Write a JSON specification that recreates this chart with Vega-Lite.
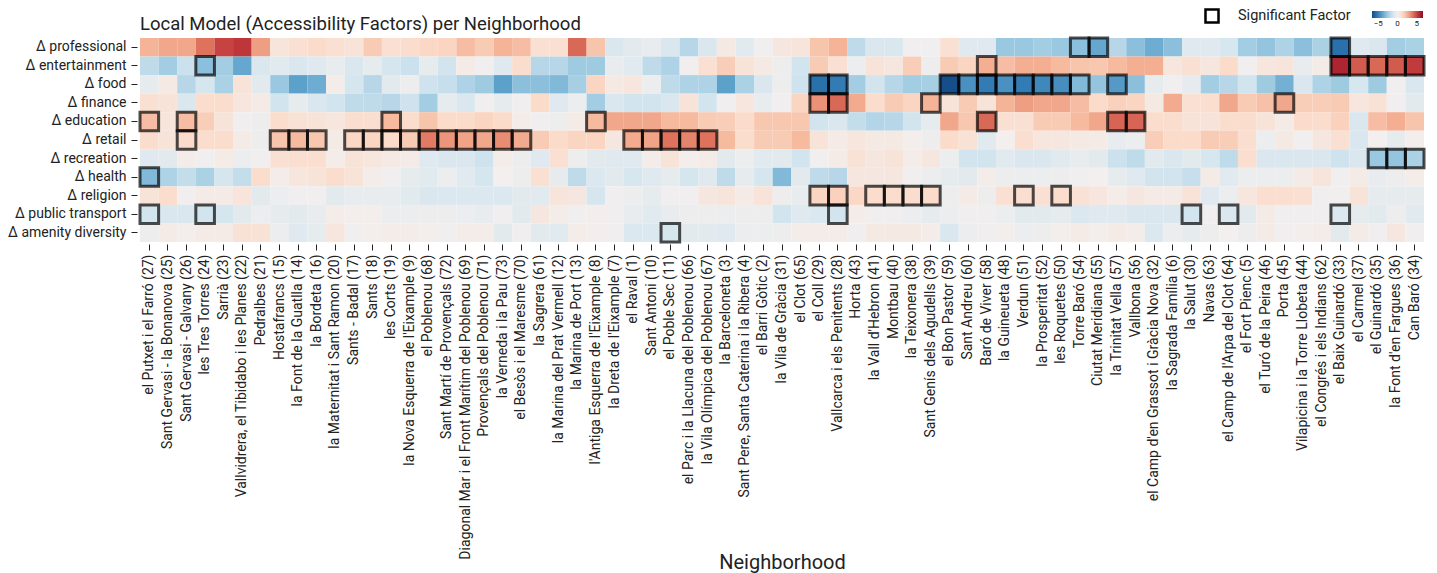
{
"$schema": "https://vega.github.io/schema/vega-lite/v6.json",
"width": 1284, "height": 204,
"autosize": {"type": "none"},
"padding": {"left": 140, "top": 38, "right": 13, "bottom": 331},
"background": "white",
"title": {"text": "Local Model (Accessibility Factors) per Neighborhood", "anchor": "start", "frame": "group", "fontSize": 18.5, "fontWeight": "normal", "font": "Roboto", "color": "#222", "offset": -25},
"config": {"view": {"stroke": null}, "font": "Roboto"},
"data": {"values": [
{"n":"el Putxet i el Farró (27)","f":"Δ professional","v":2.5},{"n":"el Putxet i el Farró (27)","f":"Δ entertainment","v":-1.8},{"n":"el Putxet i el Farró (27)","f":"Δ food","v":-0.5},{"n":"el Putxet i el Farró (27)","f":"Δ finance","v":1.0},{"n":"el Putxet i el Farró (27)","f":"Δ education","v":2.2,"s":1},{"n":"el Putxet i el Farró (27)","f":"Δ retail","v":1.2},{"n":"el Putxet i el Farró (27)","f":"Δ recreation","v":-0.8},{"n":"el Putxet i el Farró (27)","f":"Δ health","v":-3.2,"s":1},{"n":"el Putxet i el Farró (27)","f":"Δ religion","v":0.8},{"n":"el Putxet i el Farró (27)","f":"Δ public transport","v":-1.3,"s":1},{"n":"el Putxet i el Farró (27)","f":"Δ amenity diversity","v":-0.2},
{"n":"Sant Gervasi - la Bonanova (25)","f":"Δ professional","v":2.8},{"n":"Sant Gervasi - la Bonanova (25)","f":"Δ entertainment","v":-2.5},{"n":"Sant Gervasi - la Bonanova (25)","f":"Δ food","v":0.4},{"n":"Sant Gervasi - la Bonanova (25)","f":"Δ finance","v":0.8},{"n":"Sant Gervasi - la Bonanova (25)","f":"Δ education","v":0.7},{"n":"Sant Gervasi - la Bonanova (25)","f":"Δ retail","v":0.8},{"n":"Sant Gervasi - la Bonanova (25)","f":"Δ recreation","v":-0.6},{"n":"Sant Gervasi - la Bonanova (25)","f":"Δ health","v":-2.2},{"n":"Sant Gervasi - la Bonanova (25)","f":"Δ religion","v":1.2},{"n":"Sant Gervasi - la Bonanova (25)","f":"Δ public transport","v":-1.0},{"n":"Sant Gervasi - la Bonanova (25)","f":"Δ amenity diversity","v":0.3},
{"n":"Sant Gervasi - Galvany (26)","f":"Δ professional","v":2.8},{"n":"Sant Gervasi - Galvany (26)","f":"Δ entertainment","v":-1.5},{"n":"Sant Gervasi - Galvany (26)","f":"Δ food","v":-2.0},{"n":"Sant Gervasi - Galvany (26)","f":"Δ finance","v":-1.0},{"n":"Sant Gervasi - Galvany (26)","f":"Δ education","v":2.2,"s":1},{"n":"Sant Gervasi - Galvany (26)","f":"Δ retail","v":1.3,"s":1},{"n":"Sant Gervasi - Galvany (26)","f":"Δ recreation","v":0.2},{"n":"Sant Gervasi - Galvany (26)","f":"Δ health","v":-1.7},{"n":"Sant Gervasi - Galvany (26)","f":"Δ religion","v":-0.1},{"n":"Sant Gervasi - Galvany (26)","f":"Δ public transport","v":-1.0},{"n":"Sant Gervasi - Galvany (26)","f":"Δ amenity diversity","v":0.1},
{"n":"les Tres Torres (24)","f":"Δ professional","v":4.0},{"n":"les Tres Torres (24)","f":"Δ entertainment","v":-3.0,"s":1},{"n":"les Tres Torres (24)","f":"Δ food","v":-1.2},{"n":"les Tres Torres (24)","f":"Δ finance","v":1.2},{"n":"les Tres Torres (24)","f":"Δ education","v":1.7},{"n":"les Tres Torres (24)","f":"Δ retail","v":1.2},{"n":"les Tres Torres (24)","f":"Δ recreation","v":-0.1},{"n":"les Tres Torres (24)","f":"Δ health","v":-2.3},{"n":"les Tres Torres (24)","f":"Δ religion","v":0.3},{"n":"les Tres Torres (24)","f":"Δ public transport","v":-1.3,"s":1},{"n":"les Tres Torres (24)","f":"Δ amenity diversity","v":0.3},
{"n":"Sarrià (23)","f":"Δ professional","v":5.0},{"n":"Sarrià (23)","f":"Δ entertainment","v":-2.5},{"n":"Sarrià (23)","f":"Δ food","v":-2.3},{"n":"Sarrià (23)","f":"Δ finance","v":1.2},{"n":"Sarrià (23)","f":"Δ education","v":0.8},{"n":"Sarrià (23)","f":"Δ retail","v":1.2},{"n":"Sarrià (23)","f":"Δ recreation","v":0.3},{"n":"Sarrià (23)","f":"Δ health","v":-1.2},{"n":"Sarrià (23)","f":"Δ religion","v":0.3},{"n":"Sarrià (23)","f":"Δ public transport","v":-1.2},{"n":"Sarrià (23)","f":"Δ amenity diversity","v":0.3},
{"n":"Vallvidrera, el Tibidabo i les Planes (22)","f":"Δ professional","v":5.3},{"n":"Vallvidrera, el Tibidabo i les Planes (22)","f":"Δ entertainment","v":-3.8},{"n":"Vallvidrera, el Tibidabo i les Planes (22)","f":"Δ food","v":0.8},{"n":"Vallvidrera, el Tibidabo i les Planes (22)","f":"Δ finance","v":0.6},{"n":"Vallvidrera, el Tibidabo i les Planes (22)","f":"Δ education","v":-0.1},{"n":"Vallvidrera, el Tibidabo i les Planes (22)","f":"Δ retail","v":0.3},{"n":"Vallvidrera, el Tibidabo i les Planes (22)","f":"Δ recreation","v":-0.3},{"n":"Vallvidrera, el Tibidabo i les Planes (22)","f":"Δ health","v":-1.7},{"n":"Vallvidrera, el Tibidabo i les Planes (22)","f":"Δ religion","v":0.7},{"n":"Vallvidrera, el Tibidabo i les Planes (22)","f":"Δ public transport","v":-0.6},{"n":"Vallvidrera, el Tibidabo i les Planes (22)","f":"Δ amenity diversity","v":0.9},
{"n":"Pedralbes (21)","f":"Δ professional","v":3.0},{"n":"Pedralbes (21)","f":"Δ entertainment","v":-1.0},{"n":"Pedralbes (21)","f":"Δ food","v":-0.6},{"n":"Pedralbes (21)","f":"Δ finance","v":0.3},{"n":"Pedralbes (21)","f":"Δ education","v":-0.2},{"n":"Pedralbes (21)","f":"Δ retail","v":-0.2},{"n":"Pedralbes (21)","f":"Δ recreation","v":-0.1},{"n":"Pedralbes (21)","f":"Δ health","v":1.2},{"n":"Pedralbes (21)","f":"Δ religion","v":-0.6},{"n":"Pedralbes (21)","f":"Δ public transport","v":-0.3},{"n":"Pedralbes (21)","f":"Δ amenity diversity","v":0.9},
{"n":"Hostafrancs (15)","f":"Δ professional","v":0.7},{"n":"Hostafrancs (15)","f":"Δ entertainment","v":-0.7},{"n":"Hostafrancs (15)","f":"Δ food","v":-2.7},{"n":"Hostafrancs (15)","f":"Δ finance","v":-1.3},{"n":"Hostafrancs (15)","f":"Δ education","v":1.2},{"n":"Hostafrancs (15)","f":"Δ retail","v":2.0,"s":1},{"n":"Hostafrancs (15)","f":"Δ recreation","v":1.0},{"n":"Hostafrancs (15)","f":"Δ health","v":0.2},{"n":"Hostafrancs (15)","f":"Δ religion","v":-0.3},{"n":"Hostafrancs (15)","f":"Δ public transport","v":-0.5},{"n":"Hostafrancs (15)","f":"Δ amenity diversity","v":-0.3},
{"n":"la Font de la Guatlla (14)","f":"Δ professional","v":1.0},{"n":"la Font de la Guatlla (14)","f":"Δ entertainment","v":-1.0},{"n":"la Font de la Guatlla (14)","f":"Δ food","v":-4.0},{"n":"la Font de la Guatlla (14)","f":"Δ finance","v":-0.5},{"n":"la Font de la Guatlla (14)","f":"Δ education","v":0.9},{"n":"la Font de la Guatlla (14)","f":"Δ retail","v":2.3,"s":1},{"n":"la Font de la Guatlla (14)","f":"Δ recreation","v":1.1},{"n":"la Font de la Guatlla (14)","f":"Δ health","v":0.6},{"n":"la Font de la Guatlla (14)","f":"Δ religion","v":-0.1},{"n":"la Font de la Guatlla (14)","f":"Δ public transport","v":-0.6},{"n":"la Font de la Guatlla (14)","f":"Δ amenity diversity","v":-0.8},
{"n":"la Bordeta (16)","f":"Δ professional","v":1.3},{"n":"la Bordeta (16)","f":"Δ entertainment","v":-0.8},{"n":"la Bordeta (16)","f":"Δ food","v":-3.6},{"n":"la Bordeta (16)","f":"Δ finance","v":-1.0},{"n":"la Bordeta (16)","f":"Δ education","v":0.8},{"n":"la Bordeta (16)","f":"Δ retail","v":1.9,"s":1},{"n":"la Bordeta (16)","f":"Δ recreation","v":1.1},{"n":"la Bordeta (16)","f":"Δ health","v":0.8},{"n":"la Bordeta (16)","f":"Δ religion","v":-0.1},{"n":"la Bordeta (16)","f":"Δ public transport","v":-0.4},{"n":"la Bordeta (16)","f":"Δ amenity diversity","v":-0.5},
{"n":"la Maternitat i Sant Ramon (20)","f":"Δ professional","v":1.0},{"n":"la Maternitat i Sant Ramon (20)","f":"Δ entertainment","v":-0.4},{"n":"la Maternitat i Sant Ramon (20)","f":"Δ food","v":0.2},{"n":"la Maternitat i Sant Ramon (20)","f":"Δ finance","v":-1.3},{"n":"la Maternitat i Sant Ramon (20)","f":"Δ education","v":0.6},{"n":"la Maternitat i Sant Ramon (20)","f":"Δ retail","v":0.3},{"n":"la Maternitat i Sant Ramon (20)","f":"Δ recreation","v":0.2},{"n":"la Maternitat i Sant Ramon (20)","f":"Δ health","v":1.2},{"n":"la Maternitat i Sant Ramon (20)","f":"Δ religion","v":-0.6},{"n":"la Maternitat i Sant Ramon (20)","f":"Δ public transport","v":0.2},{"n":"la Maternitat i Sant Ramon (20)","f":"Δ amenity diversity","v":0.6},
{"n":"Sants - Badal (17)","f":"Δ professional","v":0.8},{"n":"Sants - Badal (17)","f":"Δ entertainment","v":-1.0},{"n":"Sants - Badal (17)","f":"Δ food","v":-1.2},{"n":"Sants - Badal (17)","f":"Δ finance","v":-1.8},{"n":"Sants - Badal (17)","f":"Δ education","v":1.1},{"n":"Sants - Badal (17)","f":"Δ retail","v":1.4,"s":1},{"n":"Sants - Badal (17)","f":"Δ recreation","v":0.8},{"n":"Sants - Badal (17)","f":"Δ health","v":0.8},{"n":"Sants - Badal (17)","f":"Δ religion","v":-0.4},{"n":"Sants - Badal (17)","f":"Δ public transport","v":0.1},{"n":"Sants - Badal (17)","f":"Δ amenity diversity","v":-0.1},
{"n":"Sants (18)","f":"Δ professional","v":1.8},{"n":"Sants (18)","f":"Δ entertainment","v":-0.5},{"n":"Sants (18)","f":"Δ food","v":-2.0},{"n":"Sants (18)","f":"Δ finance","v":-1.8},{"n":"Sants (18)","f":"Δ education","v":1.1},{"n":"Sants (18)","f":"Δ retail","v":1.5,"s":1},{"n":"Sants (18)","f":"Δ recreation","v":0.6},{"n":"Sants (18)","f":"Δ health","v":0.2},{"n":"Sants (18)","f":"Δ religion","v":-0.4},{"n":"Sants (18)","f":"Δ public transport","v":0.1},{"n":"Sants (18)","f":"Δ amenity diversity","v":0.1},
{"n":"les Corts (19)","f":"Δ professional","v":1.0},{"n":"les Corts (19)","f":"Δ entertainment","v":-1.2},{"n":"les Corts (19)","f":"Δ food","v":-0.6},{"n":"les Corts (19)","f":"Δ finance","v":-2.0},{"n":"les Corts (19)","f":"Δ education","v":2.3,"s":1},{"n":"les Corts (19)","f":"Δ retail","v":1.3,"s":1},{"n":"les Corts (19)","f":"Δ recreation","v":0.4},{"n":"les Corts (19)","f":"Δ health","v":-0.1},{"n":"les Corts (19)","f":"Δ religion","v":-0.4},{"n":"les Corts (19)","f":"Δ public transport","v":-0.3},{"n":"les Corts (19)","f":"Δ amenity diversity","v":0.2},
{"n":"la Nova Esquerra de l'Eixample (9)","f":"Δ professional","v":1.2},{"n":"la Nova Esquerra de l'Eixample (9)","f":"Δ entertainment","v":-1.5},{"n":"la Nova Esquerra de l'Eixample (9)","f":"Δ food","v":-0.2},{"n":"la Nova Esquerra de l'Eixample (9)","f":"Δ finance","v":-1.4},{"n":"la Nova Esquerra de l'Eixample (9)","f":"Δ education","v":1.2},{"n":"la Nova Esquerra de l'Eixample (9)","f":"Δ retail","v":1.8,"s":1},{"n":"la Nova Esquerra de l'Eixample (9)","f":"Δ recreation","v":0.3},{"n":"la Nova Esquerra de l'Eixample (9)","f":"Δ health","v":-0.5},{"n":"la Nova Esquerra de l'Eixample (9)","f":"Δ religion","v":-0.7},{"n":"la Nova Esquerra de l'Eixample (9)","f":"Δ public transport","v":-0.3},{"n":"la Nova Esquerra de l'Eixample (9)","f":"Δ amenity diversity","v":0.2},
{"n":"el Poblenou (68)","f":"Δ professional","v":1.4},{"n":"el Poblenou (68)","f":"Δ entertainment","v":-0.5},{"n":"el Poblenou (68)","f":"Δ food","v":-1.4},{"n":"el Poblenou (68)","f":"Δ finance","v":-2.5},{"n":"el Poblenou (68)","f":"Δ education","v":2.0},{"n":"el Poblenou (68)","f":"Δ retail","v":3.8,"s":1},{"n":"el Poblenou (68)","f":"Δ recreation","v":-0.8},{"n":"el Poblenou (68)","f":"Δ health","v":-0.7},{"n":"el Poblenou (68)","f":"Δ religion","v":-1.0},{"n":"el Poblenou (68)","f":"Δ public transport","v":-0.2},{"n":"el Poblenou (68)","f":"Δ amenity diversity","v":0.1},
{"n":"Sant Martí de Provençals (72)","f":"Δ professional","v":1.5},{"n":"Sant Martí de Provençals (72)","f":"Δ entertainment","v":-1.3},{"n":"Sant Martí de Provençals (72)","f":"Δ food","v":-1.6},{"n":"Sant Martí de Provençals (72)","f":"Δ finance","v":-0.5},{"n":"Sant Martí de Provençals (72)","f":"Δ education","v":1.3},{"n":"Sant Martí de Provençals (72)","f":"Δ retail","v":3.2,"s":1},{"n":"Sant Martí de Provençals (72)","f":"Δ recreation","v":-1.0},{"n":"Sant Martí de Provençals (72)","f":"Δ health","v":-0.3},{"n":"Sant Martí de Provençals (72)","f":"Δ religion","v":-0.9},{"n":"Sant Martí de Provençals (72)","f":"Δ public transport","v":-0.2},{"n":"Sant Martí de Provençals (72)","f":"Δ amenity diversity","v":-0.1},
{"n":"Diagonal Mar i el Front Marítim del Poblenou (69)","f":"Δ professional","v":2.2},{"n":"Diagonal Mar i el Front Marítim del Poblenou (69)","f":"Δ entertainment","v":0.3},{"n":"Diagonal Mar i el Front Marítim del Poblenou (69)","f":"Δ food","v":-2.2},{"n":"Diagonal Mar i el Front Marítim del Poblenou (69)","f":"Δ finance","v":-1.0},{"n":"Diagonal Mar i el Front Marítim del Poblenou (69)","f":"Δ education","v":1.3},{"n":"Diagonal Mar i el Front Marítim del Poblenou (69)","f":"Δ retail","v":2.9,"s":1},{"n":"Diagonal Mar i el Front Marítim del Poblenou (69)","f":"Δ recreation","v":-1.0},{"n":"Diagonal Mar i el Front Marítim del Poblenou (69)","f":"Δ health","v":-0.7},{"n":"Diagonal Mar i el Front Marítim del Poblenou (69)","f":"Δ religion","v":-0.9},{"n":"Diagonal Mar i el Front Marítim del Poblenou (69)","f":"Δ public transport","v":-0.3},{"n":"Diagonal Mar i el Front Marítim del Poblenou (69)","f":"Δ amenity diversity","v":0.2},
{"n":"Provençals del Poblenou (71)","f":"Δ professional","v":1.8},{"n":"Provençals del Poblenou (71)","f":"Δ entertainment","v":-0.1},{"n":"Provençals del Poblenou (71)","f":"Δ food","v":-2.6},{"n":"Provençals del Poblenou (71)","f":"Δ finance","v":-0.1},{"n":"Provençals del Poblenou (71)","f":"Δ education","v":1.5},{"n":"Provençals del Poblenou (71)","f":"Δ retail","v":2.8,"s":1},{"n":"Provençals del Poblenou (71)","f":"Δ recreation","v":-1.4},{"n":"Provençals del Poblenou (71)","f":"Δ health","v":-1.2},{"n":"Provençals del Poblenou (71)","f":"Δ religion","v":-0.9},{"n":"Provençals del Poblenou (71)","f":"Δ public transport","v":-0.4},{"n":"Provençals del Poblenou (71)","f":"Δ amenity diversity","v":0.2},
{"n":"la Verneda i la Pau (73)","f":"Δ professional","v":2.5},{"n":"la Verneda i la Pau (73)","f":"Δ entertainment","v":-0.8},{"n":"la Verneda i la Pau (73)","f":"Δ food","v":-4.0},{"n":"la Verneda i la Pau (73)","f":"Δ finance","v":-0.5},{"n":"la Verneda i la Pau (73)","f":"Δ education","v":1.3},{"n":"la Verneda i la Pau (73)","f":"Δ retail","v":3.4,"s":1},{"n":"la Verneda i la Pau (73)","f":"Δ recreation","v":0.2},{"n":"la Verneda i la Pau (73)","f":"Δ health","v":0.0},{"n":"la Verneda i la Pau (73)","f":"Δ religion","v":-0.9},{"n":"la Verneda i la Pau (73)","f":"Δ public transport","v":-0.1},{"n":"la Verneda i la Pau (73)","f":"Δ amenity diversity","v":-0.6},
{"n":"el Besòs i el Maresme (70)","f":"Δ professional","v":2.2},{"n":"el Besòs i el Maresme (70)","f":"Δ entertainment","v":1.2},{"n":"el Besòs i el Maresme (70)","f":"Δ food","v":-3.0},{"n":"el Besòs i el Maresme (70)","f":"Δ finance","v":-0.1},{"n":"el Besòs i el Maresme (70)","f":"Δ education","v":0.2},{"n":"el Besòs i el Maresme (70)","f":"Δ retail","v":2.7,"s":1},{"n":"el Besòs i el Maresme (70)","f":"Δ recreation","v":-0.2},{"n":"el Besòs i el Maresme (70)","f":"Δ health","v":-0.2},{"n":"el Besòs i el Maresme (70)","f":"Δ religion","v":-0.6},{"n":"el Besòs i el Maresme (70)","f":"Δ public transport","v":-0.6},{"n":"el Besòs i el Maresme (70)","f":"Δ amenity diversity","v":-0.1},
{"n":"la Sagrera (61)","f":"Δ professional","v":1.0},{"n":"la Sagrera (61)","f":"Δ entertainment","v":-2.0},{"n":"la Sagrera (61)","f":"Δ food","v":-3.0},{"n":"la Sagrera (61)","f":"Δ finance","v":1.3},{"n":"la Sagrera (61)","f":"Δ education","v":-0.1},{"n":"la Sagrera (61)","f":"Δ retail","v":1.8},{"n":"la Sagrera (61)","f":"Δ recreation","v":-0.8},{"n":"la Sagrera (61)","f":"Δ health","v":1.0},{"n":"la Sagrera (61)","f":"Δ religion","v":-0.7},{"n":"la Sagrera (61)","f":"Δ public transport","v":0.5},{"n":"la Sagrera (61)","f":"Δ amenity diversity","v":-0.6},
{"n":"la Marina del Prat Vermell (12)","f":"Δ professional","v":1.0},{"n":"la Marina del Prat Vermell (12)","f":"Δ entertainment","v":-2.0},{"n":"la Marina del Prat Vermell (12)","f":"Δ food","v":-3.2},{"n":"la Marina del Prat Vermell (12)","f":"Δ finance","v":-0.8},{"n":"la Marina del Prat Vermell (12)","f":"Δ education","v":-0.2},{"n":"la Marina del Prat Vermell (12)","f":"Δ retail","v":1.3},{"n":"la Marina del Prat Vermell (12)","f":"Δ recreation","v":1.0},{"n":"la Marina del Prat Vermell (12)","f":"Δ health","v":-0.5},{"n":"la Marina del Prat Vermell (12)","f":"Δ religion","v":0.7},{"n":"la Marina del Prat Vermell (12)","f":"Δ public transport","v":0.2},{"n":"la Marina del Prat Vermell (12)","f":"Δ amenity diversity","v":-0.7},
{"n":"la Marina de Port (13)","f":"Δ professional","v":4.2},{"n":"la Marina de Port (13)","f":"Δ entertainment","v":-2.6},{"n":"la Marina de Port (13)","f":"Δ food","v":-2.4},{"n":"la Marina de Port (13)","f":"Δ finance","v":-0.3},{"n":"la Marina de Port (13)","f":"Δ education","v":0.3},{"n":"la Marina de Port (13)","f":"Δ retail","v":1.5},{"n":"la Marina de Port (13)","f":"Δ recreation","v":-0.2},{"n":"la Marina de Port (13)","f":"Δ health","v":-1.8},{"n":"la Marina de Port (13)","f":"Δ religion","v":0.5},{"n":"la Marina de Port (13)","f":"Δ public transport","v":-0.1},{"n":"la Marina de Port (13)","f":"Δ amenity diversity","v":0.2},
{"n":"l'Antiga Esquerra de l'Eixample (8)","f":"Δ professional","v":2.0},{"n":"l'Antiga Esquerra de l'Eixample (8)","f":"Δ entertainment","v":-2.6},{"n":"l'Antiga Esquerra de l'Eixample (8)","f":"Δ food","v":1.5},{"n":"l'Antiga Esquerra de l'Eixample (8)","f":"Δ finance","v":-2.5},{"n":"l'Antiga Esquerra de l'Eixample (8)","f":"Δ education","v":2.3,"s":1},{"n":"l'Antiga Esquerra de l'Eixample (8)","f":"Δ retail","v":1.5},{"n":"l'Antiga Esquerra de l'Eixample (8)","f":"Δ recreation","v":-0.6},{"n":"l'Antiga Esquerra de l'Eixample (8)","f":"Δ health","v":-0.9},{"n":"l'Antiga Esquerra de l'Eixample (8)","f":"Δ religion","v":-1.2},{"n":"l'Antiga Esquerra de l'Eixample (8)","f":"Δ public transport","v":0.1},{"n":"l'Antiga Esquerra de l'Eixample (8)","f":"Δ amenity diversity","v":0.1},
{"n":"la Dreta de l'Eixample (7)","f":"Δ professional","v":-1.0},{"n":"la Dreta de l'Eixample (7)","f":"Δ entertainment","v":-0.4},{"n":"la Dreta de l'Eixample (7)","f":"Δ food","v":0.4},{"n":"la Dreta de l'Eixample (7)","f":"Δ finance","v":-1.0},{"n":"la Dreta de l'Eixample (7)","f":"Δ education","v":2.8},{"n":"la Dreta de l'Eixample (7)","f":"Δ retail","v":0.5},{"n":"la Dreta de l'Eixample (7)","f":"Δ recreation","v":-0.8},{"n":"la Dreta de l'Eixample (7)","f":"Δ health","v":-0.6},{"n":"la Dreta de l'Eixample (7)","f":"Δ religion","v":-0.1},{"n":"la Dreta de l'Eixample (7)","f":"Δ public transport","v":-0.1},{"n":"la Dreta de l'Eixample (7)","f":"Δ amenity diversity","v":-0.1},
{"n":"el Raval (1)","f":"Δ professional","v":-0.6},{"n":"el Raval (1)","f":"Δ entertainment","v":-0.7},{"n":"el Raval (1)","f":"Δ food","v":0.6},{"n":"el Raval (1)","f":"Δ finance","v":-1.3},{"n":"el Raval (1)","f":"Δ education","v":2.8},{"n":"el Raval (1)","f":"Δ retail","v":2.7,"s":1},{"n":"el Raval (1)","f":"Δ recreation","v":-0.8},{"n":"el Raval (1)","f":"Δ health","v":-1.1},{"n":"el Raval (1)","f":"Δ religion","v":-0.2},{"n":"el Raval (1)","f":"Δ public transport","v":-0.4},{"n":"el Raval (1)","f":"Δ amenity diversity","v":-0.9},
{"n":"Sant Antoni (10)","f":"Δ professional","v":-0.4},{"n":"Sant Antoni (10)","f":"Δ entertainment","v":-1.8},{"n":"Sant Antoni (10)","f":"Δ food","v":-0.3},{"n":"Sant Antoni (10)","f":"Δ finance","v":-1.3},{"n":"Sant Antoni (10)","f":"Δ education","v":2.8},{"n":"Sant Antoni (10)","f":"Δ retail","v":2.9,"s":1},{"n":"Sant Antoni (10)","f":"Δ recreation","v":0.2},{"n":"Sant Antoni (10)","f":"Δ health","v":-0.8},{"n":"Sant Antoni (10)","f":"Δ religion","v":-0.5},{"n":"Sant Antoni (10)","f":"Δ public transport","v":-0.7},{"n":"Sant Antoni (10)","f":"Δ amenity diversity","v":-0.9},
{"n":"el Poble Sec (11)","f":"Δ professional","v":-1.0},{"n":"el Poble Sec (11)","f":"Δ entertainment","v":-2.2},{"n":"el Poble Sec (11)","f":"Δ food","v":-1.8},{"n":"el Poble Sec (11)","f":"Δ finance","v":-1.0},{"n":"el Poble Sec (11)","f":"Δ education","v":2.3},{"n":"el Poble Sec (11)","f":"Δ retail","v":4.0,"s":1},{"n":"el Poble Sec (11)","f":"Δ recreation","v":0.8},{"n":"el Poble Sec (11)","f":"Δ health","v":-0.5},{"n":"el Poble Sec (11)","f":"Δ religion","v":-0.1},{"n":"el Poble Sec (11)","f":"Δ public transport","v":-0.4},{"n":"el Poble Sec (11)","f":"Δ amenity diversity","v":-1.2,"s":1},
{"n":"el Parc i la Llacuna del Poblenou (66)","f":"Δ professional","v":-2.0},{"n":"el Parc i la Llacuna del Poblenou (66)","f":"Δ entertainment","v":-0.1},{"n":"el Parc i la Llacuna del Poblenou (66)","f":"Δ food","v":-2.2},{"n":"el Parc i la Llacuna del Poblenou (66)","f":"Δ finance","v":0.8},{"n":"el Parc i la Llacuna del Poblenou (66)","f":"Δ education","v":2.3},{"n":"el Parc i la Llacuna del Poblenou (66)","f":"Δ retail","v":3.6,"s":1},{"n":"el Parc i la Llacuna del Poblenou (66)","f":"Δ recreation","v":0.1},{"n":"el Parc i la Llacuna del Poblenou (66)","f":"Δ health","v":-1.2},{"n":"el Parc i la Llacuna del Poblenou (66)","f":"Δ religion","v":-0.1},{"n":"el Parc i la Llacuna del Poblenou (66)","f":"Δ public transport","v":-0.2},{"n":"el Parc i la Llacuna del Poblenou (66)","f":"Δ amenity diversity","v":-0.6},
{"n":"la Vila Olímpica del Poblenou (67)","f":"Δ professional","v":-1.0},{"n":"la Vila Olímpica del Poblenou (67)","f":"Δ entertainment","v":1.0},{"n":"la Vila Olímpica del Poblenou (67)","f":"Δ food","v":-2.2},{"n":"la Vila Olímpica del Poblenou (67)","f":"Δ finance","v":-1.3},{"n":"la Vila Olímpica del Poblenou (67)","f":"Δ education","v":1.8},{"n":"la Vila Olímpica del Poblenou (67)","f":"Δ retail","v":4.0,"s":1},{"n":"la Vila Olímpica del Poblenou (67)","f":"Δ recreation","v":0.3},{"n":"la Vila Olímpica del Poblenou (67)","f":"Δ health","v":-0.8},{"n":"la Vila Olímpica del Poblenou (67)","f":"Δ religion","v":0.5},{"n":"la Vila Olímpica del Poblenou (67)","f":"Δ public transport","v":-0.2},{"n":"la Vila Olímpica del Poblenou (67)","f":"Δ amenity diversity","v":-0.6},
{"n":"la Barceloneta (3)","f":"Δ professional","v":0.4},{"n":"la Barceloneta (3)","f":"Δ entertainment","v":1.7},{"n":"la Barceloneta (3)","f":"Δ food","v":-4.0},{"n":"la Barceloneta (3)","f":"Δ finance","v":-0.1},{"n":"la Barceloneta (3)","f":"Δ education","v":1.7},{"n":"la Barceloneta (3)","f":"Δ retail","v":2.3},{"n":"la Barceloneta (3)","f":"Δ recreation","v":-0.6},{"n":"la Barceloneta (3)","f":"Δ health","v":-1.8},{"n":"la Barceloneta (3)","f":"Δ religion","v":0.7},{"n":"la Barceloneta (3)","f":"Δ public transport","v":-0.3},{"n":"la Barceloneta (3)","f":"Δ amenity diversity","v":-0.8},
{"n":"Sant Pere, Santa Caterina i la Ribera (4)","f":"Δ professional","v":-0.7},{"n":"Sant Pere, Santa Caterina i la Ribera (4)","f":"Δ entertainment","v":0.8},{"n":"Sant Pere, Santa Caterina i la Ribera (4)","f":"Δ food","v":-2.3},{"n":"Sant Pere, Santa Caterina i la Ribera (4)","f":"Δ finance","v":0.6},{"n":"Sant Pere, Santa Caterina i la Ribera (4)","f":"Δ education","v":1.3},{"n":"Sant Pere, Santa Caterina i la Ribera (4)","f":"Δ retail","v":1.2},{"n":"Sant Pere, Santa Caterina i la Ribera (4)","f":"Δ recreation","v":-0.3},{"n":"Sant Pere, Santa Caterina i la Ribera (4)","f":"Δ health","v":-0.5},{"n":"Sant Pere, Santa Caterina i la Ribera (4)","f":"Δ religion","v":0.3},{"n":"Sant Pere, Santa Caterina i la Ribera (4)","f":"Δ public transport","v":-0.2},{"n":"Sant Pere, Santa Caterina i la Ribera (4)","f":"Δ amenity diversity","v":-0.3},
{"n":"el Barri Gòtic (2)","f":"Δ professional","v":-0.1},{"n":"el Barri Gòtic (2)","f":"Δ entertainment","v":0.4},{"n":"el Barri Gòtic (2)","f":"Δ food","v":-1.0},{"n":"el Barri Gòtic (2)","f":"Δ finance","v":-0.4},{"n":"el Barri Gòtic (2)","f":"Δ education","v":1.9},{"n":"el Barri Gòtic (2)","f":"Δ retail","v":1.8},{"n":"el Barri Gòtic (2)","f":"Δ recreation","v":-0.7},{"n":"el Barri Gòtic (2)","f":"Δ health","v":-1.2},{"n":"el Barri Gòtic (2)","f":"Δ religion","v":0.8},{"n":"el Barri Gòtic (2)","f":"Δ public transport","v":-0.2},{"n":"el Barri Gòtic (2)","f":"Δ amenity diversity","v":-0.3},
{"n":"la Vila de Gràcia (31)","f":"Δ professional","v":0.5},{"n":"la Vila de Gràcia (31)","f":"Δ entertainment","v":-0.2},{"n":"la Vila de Gràcia (31)","f":"Δ food","v":-0.2},{"n":"la Vila de Gràcia (31)","f":"Δ finance","v":-0.1},{"n":"la Vila de Gràcia (31)","f":"Δ education","v":1.9},{"n":"la Vila de Gràcia (31)","f":"Δ retail","v":1.8},{"n":"la Vila de Gràcia (31)","f":"Δ recreation","v":-0.6},{"n":"la Vila de Gràcia (31)","f":"Δ health","v":-3.2},{"n":"la Vila de Gràcia (31)","f":"Δ religion","v":-0.2},{"n":"la Vila de Gràcia (31)","f":"Δ public transport","v":-1.3},{"n":"la Vila de Gràcia (31)","f":"Δ amenity diversity","v":-0.2},
{"n":"el Clot (65)","f":"Δ professional","v":0.7},{"n":"el Clot (65)","f":"Δ entertainment","v":-1.3},{"n":"el Clot (65)","f":"Δ food","v":-1.4},{"n":"el Clot (65)","f":"Δ finance","v":1.5},{"n":"el Clot (65)","f":"Δ education","v":1.9},{"n":"el Clot (65)","f":"Δ retail","v":2.3},{"n":"el Clot (65)","f":"Δ recreation","v":-1.3},{"n":"el Clot (65)","f":"Δ health","v":-0.6},{"n":"el Clot (65)","f":"Δ religion","v":-0.4},{"n":"el Clot (65)","f":"Δ public transport","v":-0.8},{"n":"el Clot (65)","f":"Δ amenity diversity","v":0.2},
{"n":"el Coll (29)","f":"Δ professional","v":2.0},{"n":"el Coll (29)","f":"Δ entertainment","v":1.8},{"n":"el Coll (29)","f":"Δ food","v":-5.5,"s":1},{"n":"el Coll (29)","f":"Δ finance","v":3.3,"s":1},{"n":"el Coll (29)","f":"Δ education","v":-1.3},{"n":"el Coll (29)","f":"Δ retail","v":0.8},{"n":"el Coll (29)","f":"Δ recreation","v":-0.1},{"n":"el Coll (29)","f":"Δ health","v":-1.8},{"n":"el Coll (29)","f":"Δ religion","v":1.5,"s":1},{"n":"el Coll (29)","f":"Δ public transport","v":-0.9},{"n":"el Coll (29)","f":"Δ amenity diversity","v":0.2},
{"n":"Vallcarca i els Penitents (28)","f":"Δ professional","v":2.5},{"n":"Vallcarca i els Penitents (28)","f":"Δ entertainment","v":1.0},{"n":"Vallcarca i els Penitents (28)","f":"Δ food","v":-5.2,"s":1},{"n":"Vallcarca i els Penitents (28)","f":"Δ finance","v":4.2,"s":1},{"n":"Vallcarca i els Penitents (28)","f":"Δ education","v":-1.0},{"n":"Vallcarca i els Penitents (28)","f":"Δ retail","v":0.3},{"n":"Vallcarca i els Penitents (28)","f":"Δ recreation","v":0.3},{"n":"Vallcarca i els Penitents (28)","f":"Δ health","v":-2.0},{"n":"Vallcarca i els Penitents (28)","f":"Δ religion","v":1.6,"s":1},{"n":"Vallcarca i els Penitents (28)","f":"Δ public transport","v":-1.3,"s":1},{"n":"Vallcarca i els Penitents (28)","f":"Δ amenity diversity","v":0.2},
{"n":"Horta (43)","f":"Δ professional","v":-1.8},{"n":"Horta (43)","f":"Δ entertainment","v":-0.3},{"n":"Horta (43)","f":"Δ food","v":-2.5},{"n":"Horta (43)","f":"Δ finance","v":2.7},{"n":"Horta (43)","f":"Δ education","v":-1.7},{"n":"Horta (43)","f":"Δ retail","v":0.6},{"n":"Horta (43)","f":"Δ recreation","v":0.9},{"n":"Horta (43)","f":"Δ health","v":0.5},{"n":"Horta (43)","f":"Δ religion","v":1.4},{"n":"Horta (43)","f":"Δ public transport","v":0.2},{"n":"Horta (43)","f":"Δ amenity diversity","v":-0.1},
{"n":"la Vall d'Hebron (41)","f":"Δ professional","v":-1.0},{"n":"la Vall d'Hebron (41)","f":"Δ entertainment","v":0.8},{"n":"la Vall d'Hebron (41)","f":"Δ food","v":-1.3},{"n":"la Vall d'Hebron (41)","f":"Δ finance","v":1.2},{"n":"la Vall d'Hebron (41)","f":"Δ education","v":-2.1},{"n":"la Vall d'Hebron (41)","f":"Δ retail","v":0.4},{"n":"la Vall d'Hebron (41)","f":"Δ recreation","v":0.5},{"n":"la Vall d'Hebron (41)","f":"Δ health","v":0.5},{"n":"la Vall d'Hebron (41)","f":"Δ religion","v":1.2,"s":1},{"n":"la Vall d'Hebron (41)","f":"Δ public transport","v":-0.1},{"n":"la Vall d'Hebron (41)","f":"Δ amenity diversity","v":0.4},
{"n":"Montbau (40)","f":"Δ professional","v":-1.0},{"n":"Montbau (40)","f":"Δ entertainment","v":0.5},{"n":"Montbau (40)","f":"Δ food","v":-2.0},{"n":"Montbau (40)","f":"Δ finance","v":1.8},{"n":"Montbau (40)","f":"Δ education","v":-2.0},{"n":"Montbau (40)","f":"Δ retail","v":0.4},{"n":"Montbau (40)","f":"Δ recreation","v":0.8},{"n":"Montbau (40)","f":"Δ health","v":0.5},{"n":"Montbau (40)","f":"Δ religion","v":1.2,"s":1},{"n":"Montbau (40)","f":"Δ public transport","v":-0.1},{"n":"Montbau (40)","f":"Δ amenity diversity","v":0.4},
{"n":"la Teixonera (38)","f":"Δ professional","v":-0.1},{"n":"la Teixonera (38)","f":"Δ entertainment","v":1.7},{"n":"la Teixonera (38)","f":"Δ food","v":-2.5},{"n":"la Teixonera (38)","f":"Δ finance","v":1.5},{"n":"la Teixonera (38)","f":"Δ education","v":-1.3},{"n":"la Teixonera (38)","f":"Δ retail","v":0.1},{"n":"la Teixonera (38)","f":"Δ recreation","v":0.2},{"n":"la Teixonera (38)","f":"Δ health","v":-0.1},{"n":"la Teixonera (38)","f":"Δ religion","v":1.2,"s":1},{"n":"la Teixonera (38)","f":"Δ public transport","v":-0.3},{"n":"la Teixonera (38)","f":"Δ amenity diversity","v":0.4},
{"n":"Sant Genís dels Agudells (39)","f":"Δ professional","v":-0.1},{"n":"Sant Genís dels Agudells (39)","f":"Δ entertainment","v":-0.2},{"n":"Sant Genís dels Agudells (39)","f":"Δ food","v":-2.4},{"n":"Sant Genís dels Agudells (39)","f":"Δ finance","v":2.5,"s":1},{"n":"Sant Genís dels Agudells (39)","f":"Δ education","v":-0.5},{"n":"Sant Genís dels Agudells (39)","f":"Δ retail","v":-0.2},{"n":"Sant Genís dels Agudells (39)","f":"Δ recreation","v":0.5},{"n":"Sant Genís dels Agudells (39)","f":"Δ health","v":-0.3},{"n":"Sant Genís dels Agudells (39)","f":"Δ religion","v":1.3,"s":1},{"n":"Sant Genís dels Agudells (39)","f":"Δ public transport","v":-0.5},{"n":"Sant Genís dels Agudells (39)","f":"Δ amenity diversity","v":0.2},
{"n":"el Bon Pastor (59)","f":"Δ professional","v":1.0},{"n":"el Bon Pastor (59)","f":"Δ entertainment","v":1.8},{"n":"el Bon Pastor (59)","f":"Δ food","v":-6.5,"s":1},{"n":"el Bon Pastor (59)","f":"Δ finance","v":0.8},{"n":"el Bon Pastor (59)","f":"Δ education","v":2.8},{"n":"el Bon Pastor (59)","f":"Δ retail","v":1.3},{"n":"el Bon Pastor (59)","f":"Δ recreation","v":-0.3},{"n":"el Bon Pastor (59)","f":"Δ health","v":-0.5},{"n":"el Bon Pastor (59)","f":"Δ religion","v":-0.2},{"n":"el Bon Pastor (59)","f":"Δ public transport","v":-0.3},{"n":"el Bon Pastor (59)","f":"Δ amenity diversity","v":-1.0},
{"n":"Sant Andreu (60)","f":"Δ professional","v":-0.8},{"n":"Sant Andreu (60)","f":"Δ entertainment","v":1.5},{"n":"Sant Andreu (60)","f":"Δ food","v":-4.5,"s":1},{"n":"Sant Andreu (60)","f":"Δ finance","v":1.8},{"n":"Sant Andreu (60)","f":"Δ education","v":1.9},{"n":"Sant Andreu (60)","f":"Δ retail","v":0.9},{"n":"Sant Andreu (60)","f":"Δ recreation","v":-1.3},{"n":"Sant Andreu (60)","f":"Δ health","v":-0.6},{"n":"Sant Andreu (60)","f":"Δ religion","v":0.3},{"n":"Sant Andreu (60)","f":"Δ public transport","v":-0.1},{"n":"Sant Andreu (60)","f":"Δ amenity diversity","v":-0.3},
{"n":"Baró de Viver (58)","f":"Δ professional","v":-0.8},{"n":"Baró de Viver (58)","f":"Δ entertainment","v":2.6,"s":1},{"n":"Baró de Viver (58)","f":"Δ food","v":-5.2,"s":1},{"n":"Baró de Viver (58)","f":"Δ finance","v":0.8},{"n":"Baró de Viver (58)","f":"Δ education","v":4.2,"s":1},{"n":"Baró de Viver (58)","f":"Δ retail","v":-0.7},{"n":"Baró de Viver (58)","f":"Δ recreation","v":-1.3},{"n":"Baró de Viver (58)","f":"Δ health","v":0.2},{"n":"Baró de Viver (58)","f":"Δ religion","v":-0.2},{"n":"Baró de Viver (58)","f":"Δ public transport","v":-0.1},{"n":"Baró de Viver (58)","f":"Δ amenity diversity","v":-0.1},
{"n":"la Guineueta (48)","f":"Δ professional","v":-2.7},{"n":"la Guineueta (48)","f":"Δ entertainment","v":2.2},{"n":"la Guineueta (48)","f":"Δ food","v":-4.5,"s":1},{"n":"la Guineueta (48)","f":"Δ finance","v":2.5},{"n":"la Guineueta (48)","f":"Δ education","v":1.0},{"n":"la Guineueta (48)","f":"Δ retail","v":0.0},{"n":"la Guineueta (48)","f":"Δ recreation","v":-0.7},{"n":"la Guineueta (48)","f":"Δ health","v":-0.2},{"n":"la Guineueta (48)","f":"Δ religion","v":1.0},{"n":"la Guineueta (48)","f":"Δ public transport","v":-0.3},{"n":"la Guineueta (48)","f":"Δ amenity diversity","v":0.1},
{"n":"Verdun (51)","f":"Δ professional","v":-2.7},{"n":"Verdun (51)","f":"Δ entertainment","v":2.6},{"n":"Verdun (51)","f":"Δ food","v":-5.2,"s":1},{"n":"Verdun (51)","f":"Δ finance","v":3.0},{"n":"Verdun (51)","f":"Δ education","v":1.0},{"n":"Verdun (51)","f":"Δ retail","v":1.1},{"n":"Verdun (51)","f":"Δ recreation","v":-1.0},{"n":"Verdun (51)","f":"Δ health","v":-0.3},{"n":"Verdun (51)","f":"Δ religion","v":1.1,"s":1},{"n":"Verdun (51)","f":"Δ public transport","v":-0.6},{"n":"Verdun (51)","f":"Δ amenity diversity","v":-0.3},
{"n":"la Prosperitat (52)","f":"Δ professional","v":-2.5},{"n":"la Prosperitat (52)","f":"Δ entertainment","v":2.6},{"n":"la Prosperitat (52)","f":"Δ food","v":-4.8,"s":1},{"n":"la Prosperitat (52)","f":"Δ finance","v":2.8},{"n":"la Prosperitat (52)","f":"Δ education","v":1.8},{"n":"la Prosperitat (52)","f":"Δ retail","v":0.6},{"n":"la Prosperitat (52)","f":"Δ recreation","v":-1.0},{"n":"la Prosperitat (52)","f":"Δ health","v":-0.3},{"n":"la Prosperitat (52)","f":"Δ religion","v":1.0},{"n":"la Prosperitat (52)","f":"Δ public transport","v":-0.6},{"n":"la Prosperitat (52)","f":"Δ amenity diversity","v":-0.2},
{"n":"les Roquetes (50)","f":"Δ professional","v":-2.7},{"n":"les Roquetes (50)","f":"Δ entertainment","v":2.3},{"n":"les Roquetes (50)","f":"Δ food","v":-4.6,"s":1},{"n":"les Roquetes (50)","f":"Δ finance","v":2.8},{"n":"les Roquetes (50)","f":"Δ education","v":1.8},{"n":"les Roquetes (50)","f":"Δ retail","v":0.5},{"n":"les Roquetes (50)","f":"Δ recreation","v":-0.7},{"n":"les Roquetes (50)","f":"Δ health","v":-0.2},{"n":"les Roquetes (50)","f":"Δ religion","v":1.2,"s":1},{"n":"les Roquetes (50)","f":"Δ public transport","v":-0.5},{"n":"les Roquetes (50)","f":"Δ amenity diversity","v":0.1},
{"n":"Torre Baró (54)","f":"Δ professional","v":-3.0,"s":1},{"n":"Torre Baró (54)","f":"Δ entertainment","v":2.0},{"n":"Torre Baró (54)","f":"Δ food","v":-3.2,"s":1},{"n":"Torre Baró (54)","f":"Δ finance","v":2.2},{"n":"Torre Baró (54)","f":"Δ education","v":2.3},{"n":"Torre Baró (54)","f":"Δ retail","v":0.4},{"n":"Torre Baró (54)","f":"Δ recreation","v":-0.4},{"n":"Torre Baró (54)","f":"Δ health","v":-0.1},{"n":"Torre Baró (54)","f":"Δ religion","v":0.9},{"n":"Torre Baró (54)","f":"Δ public transport","v":-0.9},{"n":"Torre Baró (54)","f":"Δ amenity diversity","v":0.3},
{"n":"Ciutat Meridiana (55)","f":"Δ professional","v":-3.8,"s":1},{"n":"Ciutat Meridiana (55)","f":"Δ entertainment","v":1.9},{"n":"Ciutat Meridiana (55)","f":"Δ food","v":-2.8},{"n":"Ciutat Meridiana (55)","f":"Δ finance","v":1.3},{"n":"Ciutat Meridiana (55)","f":"Δ education","v":2.8},{"n":"Ciutat Meridiana (55)","f":"Δ retail","v":0.3},{"n":"Ciutat Meridiana (55)","f":"Δ recreation","v":-0.6},{"n":"Ciutat Meridiana (55)","f":"Δ health","v":0.0},{"n":"Ciutat Meridiana (55)","f":"Δ religion","v":0.6},{"n":"Ciutat Meridiana (55)","f":"Δ public transport","v":-0.8},{"n":"Ciutat Meridiana (55)","f":"Δ amenity diversity","v":0.1},
{"n":"la Trinitat Vella (57)","f":"Δ professional","v":-2.0},{"n":"la Trinitat Vella (57)","f":"Δ entertainment","v":2.3},{"n":"la Trinitat Vella (57)","f":"Δ food","v":-4.2,"s":1},{"n":"la Trinitat Vella (57)","f":"Δ finance","v":1.6},{"n":"la Trinitat Vella (57)","f":"Δ education","v":4.3,"s":1},{"n":"la Trinitat Vella (57)","f":"Δ retail","v":-0.4},{"n":"la Trinitat Vella (57)","f":"Δ recreation","v":-1.5},{"n":"la Trinitat Vella (57)","f":"Δ health","v":-0.5},{"n":"la Trinitat Vella (57)","f":"Δ religion","v":0.2},{"n":"la Trinitat Vella (57)","f":"Δ public transport","v":-0.8},{"n":"la Trinitat Vella (57)","f":"Δ amenity diversity","v":0.3},
{"n":"Vallbona (56)","f":"Δ professional","v":-3.0},{"n":"Vallbona (56)","f":"Δ entertainment","v":2.6},{"n":"Vallbona (56)","f":"Δ food","v":-3.0},{"n":"Vallbona (56)","f":"Δ finance","v":1.5},{"n":"Vallbona (56)","f":"Δ education","v":4.3,"s":1},{"n":"Vallbona (56)","f":"Δ retail","v":-0.3},{"n":"Vallbona (56)","f":"Δ recreation","v":-1.8},{"n":"Vallbona (56)","f":"Δ health","v":-0.8},{"n":"Vallbona (56)","f":"Δ religion","v":0.5},{"n":"Vallbona (56)","f":"Δ public transport","v":-1.0},{"n":"Vallbona (56)","f":"Δ amenity diversity","v":0.2},
{"n":"el Camp d'en Grassot i Gràcia Nova (32)","f":"Δ professional","v":-3.6},{"n":"el Camp d'en Grassot i Gràcia Nova (32)","f":"Δ entertainment","v":2.6},{"n":"el Camp d'en Grassot i Gràcia Nova (32)","f":"Δ food","v":-0.5},{"n":"el Camp d'en Grassot i Gràcia Nova (32)","f":"Δ finance","v":0.4},{"n":"el Camp d'en Grassot i Gràcia Nova (32)","f":"Δ education","v":1.2},{"n":"el Camp d'en Grassot i Gràcia Nova (32)","f":"Δ retail","v":1.7},{"n":"el Camp d'en Grassot i Gràcia Nova (32)","f":"Δ recreation","v":-0.6},{"n":"el Camp d'en Grassot i Gràcia Nova (32)","f":"Δ health","v":-1.3},{"n":"el Camp d'en Grassot i Gràcia Nova (32)","f":"Δ religion","v":0.3},{"n":"el Camp d'en Grassot i Gràcia Nova (32)","f":"Δ public transport","v":-1.0},{"n":"el Camp d'en Grassot i Gràcia Nova (32)","f":"Δ amenity diversity","v":-0.9},
{"n":"la Sagrada Família (6)","f":"Δ professional","v":-3.0},{"n":"la Sagrada Família (6)","f":"Δ entertainment","v":0.6},{"n":"la Sagrada Família (6)","f":"Δ food","v":-0.1},{"n":"la Sagrada Família (6)","f":"Δ finance","v":2.7},{"n":"la Sagrada Família (6)","f":"Δ education","v":1.2},{"n":"la Sagrada Família (6)","f":"Δ retail","v":1.3},{"n":"la Sagrada Família (6)","f":"Δ recreation","v":-1.0},{"n":"la Sagrada Família (6)","f":"Δ health","v":-1.3},{"n":"la Sagrada Família (6)","f":"Δ religion","v":0.3},{"n":"la Sagrada Família (6)","f":"Δ public transport","v":-1.0},{"n":"la Sagrada Família (6)","f":"Δ amenity diversity","v":-0.3},
{"n":"la Salut (30)","f":"Δ professional","v":-0.8},{"n":"la Salut (30)","f":"Δ entertainment","v":1.0},{"n":"la Salut (30)","f":"Δ food","v":-0.5},{"n":"la Salut (30)","f":"Δ finance","v":1.0},{"n":"la Salut (30)","f":"Δ education","v":0.8},{"n":"la Salut (30)","f":"Δ retail","v":1.3},{"n":"la Salut (30)","f":"Δ recreation","v":-0.6},{"n":"la Salut (30)","f":"Δ health","v":-1.6},{"n":"la Salut (30)","f":"Δ religion","v":0.8},{"n":"la Salut (30)","f":"Δ public transport","v":-1.3,"s":1},{"n":"la Salut (30)","f":"Δ amenity diversity","v":-0.5},
{"n":"Navas (63)","f":"Δ professional","v":-0.8},{"n":"Navas (63)","f":"Δ entertainment","v":0.5},{"n":"Navas (63)","f":"Δ food","v":-2.5},{"n":"Navas (63)","f":"Δ finance","v":1.1},{"n":"Navas (63)","f":"Δ education","v":0.8},{"n":"Navas (63)","f":"Δ retail","v":1.8},{"n":"Navas (63)","f":"Δ recreation","v":-1.1},{"n":"Navas (63)","f":"Δ health","v":0.3},{"n":"Navas (63)","f":"Δ religion","v":-0.8},{"n":"Navas (63)","f":"Δ public transport","v":-0.1},{"n":"Navas (63)","f":"Δ amenity diversity","v":-0.2},
{"n":"el Camp de l'Arpa del Clot (64)","f":"Δ professional","v":-1.1},{"n":"el Camp de l'Arpa del Clot (64)","f":"Δ entertainment","v":1.3},{"n":"el Camp de l'Arpa del Clot (64)","f":"Δ food","v":-2.0},{"n":"el Camp de l'Arpa del Clot (64)","f":"Δ finance","v":2.8},{"n":"el Camp de l'Arpa del Clot (64)","f":"Δ education","v":1.2},{"n":"el Camp de l'Arpa del Clot (64)","f":"Δ retail","v":1.7},{"n":"el Camp de l'Arpa del Clot (64)","f":"Δ recreation","v":-1.8},{"n":"el Camp de l'Arpa del Clot (64)","f":"Δ health","v":-0.7},{"n":"el Camp de l'Arpa del Clot (64)","f":"Δ religion","v":-0.3},{"n":"el Camp de l'Arpa del Clot (64)","f":"Δ public transport","v":-1.0,"s":1},{"n":"el Camp de l'Arpa del Clot (64)","f":"Δ amenity diversity","v":0.0},
{"n":"el Fort Pienc (5)","f":"Δ professional","v":-2.5},{"n":"el Fort Pienc (5)","f":"Δ entertainment","v":-0.1},{"n":"el Fort Pienc (5)","f":"Δ food","v":-1.3},{"n":"el Fort Pienc (5)","f":"Δ finance","v":1.8},{"n":"el Fort Pienc (5)","f":"Δ education","v":1.2},{"n":"el Fort Pienc (5)","f":"Δ retail","v":1.1},{"n":"el Fort Pienc (5)","f":"Δ recreation","v":1.1},{"n":"el Fort Pienc (5)","f":"Δ health","v":-0.3},{"n":"el Fort Pienc (5)","f":"Δ religion","v":0.6},{"n":"el Fort Pienc (5)","f":"Δ public transport","v":-0.6},{"n":"el Fort Pienc (5)","f":"Δ amenity diversity","v":-0.2},
{"n":"el Turó de la Peira (46)","f":"Δ professional","v":-2.8},{"n":"el Turó de la Peira (46)","f":"Δ entertainment","v":0.6},{"n":"el Turó de la Peira (46)","f":"Δ food","v":-2.6},{"n":"el Turó de la Peira (46)","f":"Δ finance","v":2.1},{"n":"el Turó de la Peira (46)","f":"Δ education","v":0.8},{"n":"el Turó de la Peira (46)","f":"Δ retail","v":-0.3},{"n":"el Turó de la Peira (46)","f":"Δ recreation","v":-1.0},{"n":"el Turó de la Peira (46)","f":"Δ health","v":-0.3},{"n":"el Turó de la Peira (46)","f":"Δ religion","v":1.1},{"n":"el Turó de la Peira (46)","f":"Δ public transport","v":0.3},{"n":"el Turó de la Peira (46)","f":"Δ amenity diversity","v":0.3},
{"n":"Porta (45)","f":"Δ professional","v":-2.2},{"n":"Porta (45)","f":"Δ entertainment","v":0.7},{"n":"Porta (45)","f":"Δ food","v":-3.5},{"n":"Porta (45)","f":"Δ finance","v":2.8,"s":1},{"n":"Porta (45)","f":"Δ education","v":0.3},{"n":"Porta (45)","f":"Δ retail","v":0.4},{"n":"Porta (45)","f":"Δ recreation","v":-1.0},{"n":"Porta (45)","f":"Δ health","v":-0.3},{"n":"Porta (45)","f":"Δ religion","v":1.1},{"n":"Porta (45)","f":"Δ public transport","v":-0.1},{"n":"Porta (45)","f":"Δ amenity diversity","v":-0.1},
{"n":"Vilapicina i la Torre Llobeta (44)","f":"Δ professional","v":-3.0},{"n":"Vilapicina i la Torre Llobeta (44)","f":"Δ entertainment","v":-0.4},{"n":"Vilapicina i la Torre Llobeta (44)","f":"Δ food","v":-1.0},{"n":"Vilapicina i la Torre Llobeta (44)","f":"Δ finance","v":1.7},{"n":"Vilapicina i la Torre Llobeta (44)","f":"Δ education","v":1.3},{"n":"Vilapicina i la Torre Llobeta (44)","f":"Δ retail","v":-0.1},{"n":"Vilapicina i la Torre Llobeta (44)","f":"Δ recreation","v":-1.0},{"n":"Vilapicina i la Torre Llobeta (44)","f":"Δ health","v":0.3},{"n":"Vilapicina i la Torre Llobeta (44)","f":"Δ religion","v":1.0},{"n":"Vilapicina i la Torre Llobeta (44)","f":"Δ public transport","v":-0.1},{"n":"Vilapicina i la Torre Llobeta (44)","f":"Δ amenity diversity","v":0.1},
{"n":"el Congrés i els Indians (62)","f":"Δ professional","v":-2.3},{"n":"el Congrés i els Indians (62)","f":"Δ entertainment","v":0.3},{"n":"el Congrés i els Indians (62)","f":"Δ food","v":-2.2},{"n":"el Congrés i els Indians (62)","f":"Δ finance","v":1.7},{"n":"el Congrés i els Indians (62)","f":"Δ education","v":1.2},{"n":"el Congrés i els Indians (62)","f":"Δ retail","v":0.5},{"n":"el Congrés i els Indians (62)","f":"Δ recreation","v":-1.0},{"n":"el Congrés i els Indians (62)","f":"Δ health","v":0.7},{"n":"el Congrés i els Indians (62)","f":"Δ religion","v":-0.1},{"n":"el Congrés i els Indians (62)","f":"Δ public transport","v":-0.1},{"n":"el Congrés i els Indians (62)","f":"Δ amenity diversity","v":0.2},
{"n":"el Baix Guinardó (33)","f":"Δ professional","v":-5.5,"s":1},{"n":"el Baix Guinardó (33)","f":"Δ entertainment","v":5.8,"s":1},{"n":"el Baix Guinardó (33)","f":"Δ food","v":-2.6},{"n":"el Baix Guinardó (33)","f":"Δ finance","v":1.8},{"n":"el Baix Guinardó (33)","f":"Δ education","v":1.6},{"n":"el Baix Guinardó (33)","f":"Δ retail","v":1.0},{"n":"el Baix Guinardó (33)","f":"Δ recreation","v":-1.4},{"n":"el Baix Guinardó (33)","f":"Δ health","v":-0.1},{"n":"el Baix Guinardó (33)","f":"Δ religion","v":-0.1},{"n":"el Baix Guinardó (33)","f":"Δ public transport","v":-0.9,"s":1},{"n":"el Baix Guinardó (33)","f":"Δ amenity diversity","v":-0.6},
{"n":"el Carmel (37)","f":"Δ professional","v":-0.8},{"n":"el Carmel (37)","f":"Δ entertainment","v":4.5,"s":1},{"n":"el Carmel (37)","f":"Δ food","v":-1.1},{"n":"el Carmel (37)","f":"Δ finance","v":0.6},{"n":"el Carmel (37)","f":"Δ education","v":-1.0},{"n":"el Carmel (37)","f":"Δ retail","v":-1.0},{"n":"el Carmel (37)","f":"Δ recreation","v":-1.0},{"n":"el Carmel (37)","f":"Δ health","v":0.3},{"n":"el Carmel (37)","f":"Δ religion","v":0.8},{"n":"el Carmel (37)","f":"Δ public transport","v":-0.5},{"n":"el Carmel (37)","f":"Δ amenity diversity","v":0.3},
{"n":"el Guinardó (35)","f":"Δ professional","v":-1.0},{"n":"el Guinardó (35)","f":"Δ entertainment","v":4.2,"s":1},{"n":"el Guinardó (35)","f":"Δ food","v":-2.6},{"n":"el Guinardó (35)","f":"Δ finance","v":0.9},{"n":"el Guinardó (35)","f":"Δ education","v":2.2},{"n":"el Guinardó (35)","f":"Δ retail","v":0.0},{"n":"el Guinardó (35)","f":"Δ recreation","v":-2.7,"s":1},{"n":"el Guinardó (35)","f":"Δ health","v":-0.4},{"n":"el Guinardó (35)","f":"Δ religion","v":-0.5},{"n":"el Guinardó (35)","f":"Δ public transport","v":-0.6},{"n":"el Guinardó (35)","f":"Δ amenity diversity","v":-0.1},
{"n":"la Font d'en Fargues (36)","f":"Δ professional","v":-2.5},{"n":"la Font d'en Fargues (36)","f":"Δ entertainment","v":4.5,"s":1},{"n":"la Font d'en Fargues (36)","f":"Δ food","v":-0.1},{"n":"la Font d'en Fargues (36)","f":"Δ finance","v":-0.1},{"n":"la Font d'en Fargues (36)","f":"Δ education","v":2.6},{"n":"la Font d'en Fargues (36)","f":"Δ retail","v":-0.5},{"n":"la Font d'en Fargues (36)","f":"Δ recreation","v":-2.8,"s":1},{"n":"la Font d'en Fargues (36)","f":"Δ health","v":-0.2},{"n":"la Font d'en Fargues (36)","f":"Δ religion","v":-0.5},{"n":"la Font d'en Fargues (36)","f":"Δ public transport","v":-0.2},{"n":"la Font d'en Fargues (36)","f":"Δ amenity diversity","v":0.5},
{"n":"Can Baró (34)","f":"Δ professional","v":-2.3},{"n":"Can Baró (34)","f":"Δ entertainment","v":5.2,"s":1},{"n":"Can Baró (34)","f":"Δ food","v":-1.0},{"n":"Can Baró (34)","f":"Δ finance","v":-0.6},{"n":"Can Baró (34)","f":"Δ education","v":2.0},{"n":"Can Baró (34)","f":"Δ retail","v":0.1},{"n":"Can Baró (34)","f":"Δ recreation","v":-2.3,"s":1},{"n":"Can Baró (34)","f":"Δ health","v":0.2},{"n":"Can Baró (34)","f":"Δ religion","v":-0.5},{"n":"Can Baró (34)","f":"Δ public transport","v":-0.7},{"n":"Can Baró (34)","f":"Δ amenity diversity","v":-0.1}
]},
"encoding": {
  "x": {"field": "n", "type": "nominal", "sort": null, "scale": {"paddingInner": 0, "paddingOuter": 0},
    "axis": {"title": "Neighborhood", "titleFontSize": 20, "titleFontWeight": "normal", "titleColor": "#222", "titleX": 642, "titleY": 318, "titleBaseline": "middle", "titleAlign": "center",
      "labelAngle": -90, "labelFontSize": 14, "labelColor": "#222", "tickColor": "#222", "tickSize": 6, "offset": 2, "domain": false, "labelPadding": 4, "labelOverlap": false, "labelLimit": 400}},
  "y": {"field": "f", "type": "nominal", "sort": ["Δ professional","Δ entertainment","Δ food","Δ finance","Δ education","Δ retail","Δ recreation","Δ health","Δ religion","Δ public transport","Δ amenity diversity"], "scale": {"paddingInner": 0, "paddingOuter": 0},
    "axis": {"title": null, "labelFontSize": 14, "labelColor": "#222", "tickColor": "#222", "tickSize": 6, "offset": 3, "domain": false, "labelPadding": 5}}
},
"layer": [
  {"mark": {"type": "rect"},
   "encoding": {"color": {"field": "v", "type": "quantitative", "scale": {"scheme": "redblue", "reverse": true, "domain": [-6.6, 6.6]},
     "legend": {"orient": "none", "legendX": 1232, "legendY": -27, "direction": "horizontal", "gradientLength": 51, "gradientThickness": 7, "title": null, "labelFontSize": 8, "labelColor": "#222", "values": [-5, 0, 5], "labelOffset": 2, "gradientStrokeWidth": 0}}}},
  {"transform": [{"filter": "datum.s == 1"}],
   "mark": {"type": "rect", "filled": false, "strokeWidth": 3, "strokeOpacity": 0.7},
   "encoding": {"stroke": {"datum": "Significant Factor", "type": "nominal", "scale": {"range": ["black"]},
     "legend": {"orient": "none", "legendX": 1064, "legendY": -30, "title": null, "symbolType": "square", "symbolSize": 170, "symbolStrokeWidth": 2.5, "symbolOpacity": 1, "labelFontSize": 14.5, "labelColor": "#222", "labelOffset": 18}}}}
]
}
